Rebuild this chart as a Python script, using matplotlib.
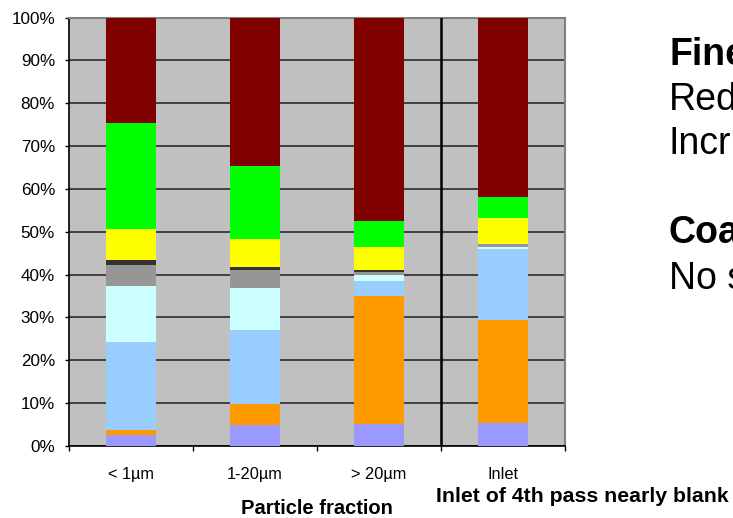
import matplotlib.pyplot as plt
import numpy as np
from matplotlib.ticker import FixedLocator

plt.rcParams['font.family'] = ['Liberation Sans', 'DejaVu Sans']

# particle fractions on the x axis
fractions = ['< 1µm', '1-20µm', '> 20µm', 'Inlet']

# share of each component per fraction (%), stacked bottom to top
periwinkle = [2.5, 4.9, 5.2, 5.4]
orange = [1.2, 4.9, 29.9, 24.0]
sky = [20.6, 17.3, 3.4, 16.6]
pale_cyan = [13.1, 9.8, 1.4, 0.5]
grey = [4.9, 4.2, 0.7, 0.7]
charcoal = [1.1, 0.7, 0.5, 0.0]
yellow = [7.3, 6.5, 5.4, 6.0]
green = [24.7, 17.1, 6.0, 4.9]
maroon = [24.6, 34.6, 47.5, 41.9]

layers = [periwinkle, orange, sky, pale_cyan, grey, charcoal, yellow, green, maroon]
colors = ['#9999FF', '#FF9900', '#99CCFF', '#CCFFFF', '#969696',
          '#333333', '#FFFF00', '#00FF00', '#800000']

fig = plt.figure(figsize=(7.33, 5.18), dpi=100)
ax = fig.add_axes([0.094, 0.139, 0.677, 0.827])
ax.set_facecolor('#C0C0C0')

x = np.arange(len(fractions))
bottom = np.zeros(len(fractions))
for vals, col in zip(layers, colors):
    ax.bar(x, vals, bottom=bottom, width=0.4, color=col, linewidth=0, zorder=3)
    bottom += np.array(vals)

ax.set_xlim(-0.5, 3.5)
ax.set_ylim(0, 100)

ax.set_yticks(np.arange(0, 101, 10))
ax.set_yticklabels([f'{v}%' for v in range(0, 101, 10)], fontsize=12.3)
ax.yaxis.grid(True, color='#1e1e1e', linewidth=1.1, zorder=1)
ax.set_axisbelow(True)

# boundaries get the tick marks, bar centres get the labels
ax.xaxis.set_major_locator(FixedLocator([-0.5, 0.5, 1.5, 2.5, 3.5]))
ax.set_xticklabels([])
ax.set_xticks(x, minor=True)
ax.set_xticklabels(fractions, minor=True, fontsize=11.8)
ax.tick_params(axis='x', which='minor', length=0, pad=15)
ax.tick_params(axis='x', which='major', length=3.5, width=1, color='black')
ax.tick_params(axis='y', length=3, width=1, pad=7, color='black')

# separator before the inlet bar
ax.axvline(2.5, color='black', linewidth=1.8, zorder=4)

for s in ['left', 'bottom']:
    ax.spines[s].set_color('black')
    ax.spines[s].set_linewidth(1.2)
for s in ['top', 'right']:
    ax.spines[s].set_color('#808080')
    ax.spines[s].set_linewidth(1.5)

fig.text(317 / 733, 1 - 514 / 518, 'Particle fraction', fontsize=14.5,
         fontweight='bold', va='baseline', ha='center')

fig.text(436 / 733, 1 - 502 / 518, 'Inlet of 4th pass nearly blank',
         fontsize=15.3, fontweight='bold', va='baseline', ha='left')

# side notes
notes = [('Fine', 65, 'bold'), ('Red', 110, 'normal'), ('Incr', 154, 'normal'),
         ('Coa', 243, 'bold'), ('No s', 289, 'normal')]
for txt, yb, w in notes:
    fig.text(669 / 733, 1 - yb / 518, txt, fontsize=27, fontweight=w,
             va='baseline', ha='left')

fig.savefig('out.png', dpi=100)
